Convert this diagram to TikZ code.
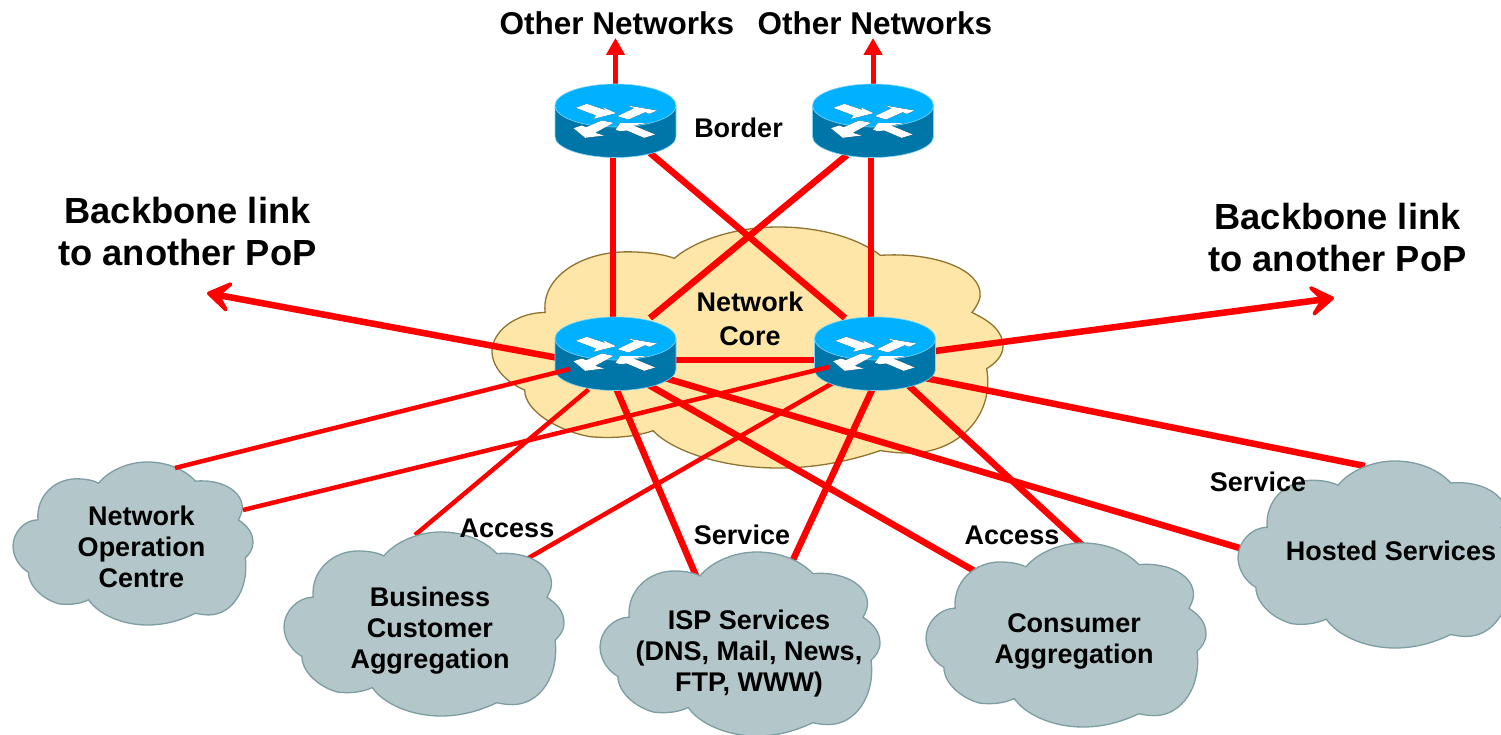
\documentclass[tikz,border=0pt]{standalone}
\usepackage{fontspec}
\setmainfont{Liberation Sans}
\usetikzlibrary{arrows.meta}
\pgfdeclarelayer{corelayer}
\pgfdeclarelayer{linklayer}
\pgfdeclarelayer{cloudlayer}
\pgfsetlayers{corelayer,linklayer,cloudlayer,main}
\definecolor{linered}{HTML}{FF0000}
\definecolor{corefill}{HTML}{FDE6A8}
\definecolor{coreedge}{HTML}{8F7430}
\definecolor{greyfill}{HTML}{B3C6CA}
\definecolor{greyedge}{HTML}{7C9EA3}
\definecolor{routertop}{HTML}{00B1FF}
\definecolor{routerside}{HTML}{0075A8}
\definecolor{routeredge}{HTML}{7FD4F5}
\newcommand{\cloudoutline}{
  (223,63) .. controls (250,25) and (300,0) .. (350,0)
  .. controls (405,0) and (450,25) .. (475,57)
  .. controls (540,50) and (600,85) .. (597,140)
  .. controls (596,150) and (592,162) .. (587,172)
  .. controls (610,190) and (625,210) .. (625,240)
  .. controls (625,260) and (615,275) .. (605,285)
  .. controls (615,380) and (570,455) .. (510,455)
  .. controls (498,455) and (487,453) .. (475,450)
  .. controls (430,475) and (390,485) .. (350,485)
  .. controls (280,485) and (220,450) .. (197,410)
  .. controls (170,425) and (140,425) .. (120,422)
  .. controls (80,410) and (40,370) .. (40,328)
  .. controls (20,315) and (0,285) .. (0,250)
  .. controls (0,210) and (30,172) .. (65,172)
  .. controls (60,100) and (110,50) .. (165,50)
  .. controls (190,50) and (210,55) .. (223,63) -- cycle}
\newcommand{\makecloud}[5]{% style, x0, y0, x1, y1
  \pgfmathsetmacro{\cloudsx}{(#4-#2)/625}
  \pgfmathsetmacro{\cloudsy}{-(#5-#3)/485}
  \path[#1,line width=1.3pt,shift={(#2,#3)},x=\cloudsx pt,y=\cloudsy pt] \cloudoutline;}
\newcommand{\arrowshapes}{
  (-119,-38) -- (-86,-50) -- (-30,-31) -- (-38,-40) -- (2,-22) -- (-66,-5) -- (-58,-15) -- cycle
  (6,-13) -- (39,-3) -- (89,-25) -- (102,-20) -- (124,-30) -- (36,-45) -- (56,-37) -- cycle
  (-6,7) -- (-41,0) -- (-88,20) -- (-101,15) -- (-126,23) -- (-91,52) -- (-34,45) -- (-61,37) -- cycle
  (119,42) -- (86,52) -- (34,30) -- (14,32) -- (0,28) -- (14,8) -- (92,8) -- (54,15) -- cycle}
\tikzset{
  routerbox/.style={rectangle,inner sep=0pt,minimum width=123pt,minimum height=76pt,
    path picture={
      \begin{scope}[shift={(path picture bounding box.center)}]
        \fill[routerside,draw=routeredge,line width=.6pt] (-60.5,-15) -- (-60.5,16) arc[start angle=180,end angle=0,x radius=60.5,y radius=21] -- (60.5,-15) -- cycle;
        \fill[routertop,draw=routeredge,line width=.6pt] (0,-15) ellipse[x radius=60.5,y radius=21.5];
        \begin{scope}[shift={(0,-15)}]
        \begin{scope}[x=.3333pt,y=-.3333pt]
          \fill[black,shift={(-2,2)}] \arrowshapes;
          \fill[white] \arrowshapes;
        \end{scope}
        \end{scope}
      \end{scope}}},
  thinlink/.style={linered,line width=4.5pt},
  thicklink/.style={linered,line width=6.5pt},
  uplink/.style={linered,line width=5pt,-{Triangle[length=17pt,width=18pt]}},
  backbone/.style={linered,line width=6.5pt,-{Stealth[length=32pt,width=42pt,inset=17pt,round,line width=6pt]}},
  lbl/.style={font=\bfseries\fontsize{27}{31}\selectfont,text=black,inner sep=0pt,align=center},
  toplbl/.style={font=\bfseries\fontsize{31.5}{38}\selectfont,text=black,inner sep=0pt,align=center},
  biglbl/.style={font=\bfseries\fontsize{36.3}{42}\selectfont,text=black,inner sep=0pt,align=center},
  corecloud/.style={fill=corefill,draw=coreedge},
  greycloud/.style={fill=greyfill,draw=greyedge},
}
\begin{document}
\begin{tikzpicture}[x=1pt,y=-1pt]
\useasboundingbox (0,0) rectangle (1501,735);
\clip (0,0) rectangle (1501,735);
\begin{pgfonlayer}{corelayer}
\makecloud{corecloud}{492}{227}{1003}{468}
\end{pgfonlayer}
\begin{pgfonlayer}{cloudlayer}
\makecloud{greycloud}{13}{462}{253}{625}
\makecloud{greycloud}{284}{532}{564}{716}
\makecloud{greycloud}{600}{552}{880}{736}
\makecloud{greycloud}{926}{543}{1206}{727}
\makecloud{greycloud}{1238}{461}{1518}{648}
\end{pgfonlayer}

\node[routerbox] (bl) at (615.5,120.5) {};
\node[routerbox] (br) at (873,120.5) {};
\node[routerbox] (cl) at (615.5,353.5) {};
\node[routerbox] (cr) at (875,353.5) {};

\node[lbl] (noc) at (141.5,547) {Network\\Operation\\Centre};
\node[lbl] (biz) at (430,631) {Business\\Customer\\Aggregation};
\node[lbl] (isp) at (749,653.5) {ISP Services\\(DNS, Mail, News,\\FTP, WWW)};
\node[lbl] (con) at (1074,641.5) {Consumer\\Aggregation};
\node[lbl] (hos) at (1391,551) {Hosted Services};
\node[lbl,font=\bfseries\fontsize{27}{33.5}\selectfont] (netcore) at (750,319) {Network\\Core};
\node[lbl] (bord) at (738.5,128) {Border};
\node[lbl] (acc1) at (507,528) {Access};
\node[lbl] (svc1) at (742,535) {Service};
\node[lbl] (acc2) at (1012,535) {Access};
\node[lbl] (svc2) at (1258,482) {Service};
\node[toplbl] (on1) at (617,23) {Other Networks};
\node[toplbl] (on2) at (875,23) {Other Networks};
\node[biglbl] (bb1) at (187.5,232) {Backbone link\\to another PoP};
\node[biglbl] (bb2) at (1337.5,238) {Backbone link\\to another PoP};

\coordinate (topl) at (615.5,38);
\coordinate (topr) at (873,38);
\coordinate (bbl) at (207,293);
\coordinate (bbr) at (1334,298);

\begin{pgfonlayer}{linklayer}
\draw[uplink] (bl.center) -- (topl);
\draw[uplink] (br.center) -- (topr);
\draw[thicklink] ([shift={(-2.5,0)}]bl.center) -- ([shift={(-2.5,0)}]cl.center);
\draw[thicklink] ([shift={(-2,0)}]br.center) -- ([shift={(-4,0)}]cr.center);
\draw[thicklink] ([shift={(34.5,32.5)}]bl.center) -- ([shift={(-30,-35.5)}]cr.center);
\draw[thicklink] ([shift={(-26,34.5)}]br.center) -- ([shift={(34.5,-35.5)}]cl.center);
\draw[thicklink] ([shift={(0,6.5)}]cl.center) -- ([shift={(0,6.5)}]cr.center);
\draw[backbone] ([shift={(-30,9.5)}]cl.center) -- (bbl);
\draw[backbone] ([shift={(30,1.5)}]cr.center) -- (bbr);
\draw[thinlink] ([shift={(-27,36)}]cl.center) -- ([shift={(-15,-96)}]biz.center);
\draw[thicklink] ([shift={(0.5,34.5)}]cl.center) -- ([shift={(-52,-75.5)}]isp.center);
\draw[thicklink] ([shift={(31.5,30.5)}]cl.center) -- ([shift={(-96,-68.5)}]con.center);
\draw[thicklink] ([shift={(49.5,24.5)}]cl.center) -- ([shift={(-148,-2)}]hos.center);
\draw[thinlink] ([shift={(-37,26.5)}]cr.center) -- ([shift={(95,-71)}]biz.center);
\draw[thicklink] ([shift={(-3,36.5)}]cr.center) -- ([shift={(43,-91.5)}]isp.center);
\draw[thicklink] ([shift={(33,31.5)}]cr.center) -- ([shift={(8,-96.5)}]con.center);
\draw[thicklink] ([shift={(50,24.5)}]cr.center) -- ([shift={(-26,-85)}]hos.center);
\end{pgfonlayer}

\draw[thinlink] ([shift={(-45.5,15.5)}]cl.center) -- ([shift={(33.5,-79)}]noc.center);
\draw[thinlink] ([shift={(-46,13.5)}]cr.center) -- ([shift={(101.5,-37)}]noc.center);
\end{tikzpicture}
\end{document}
